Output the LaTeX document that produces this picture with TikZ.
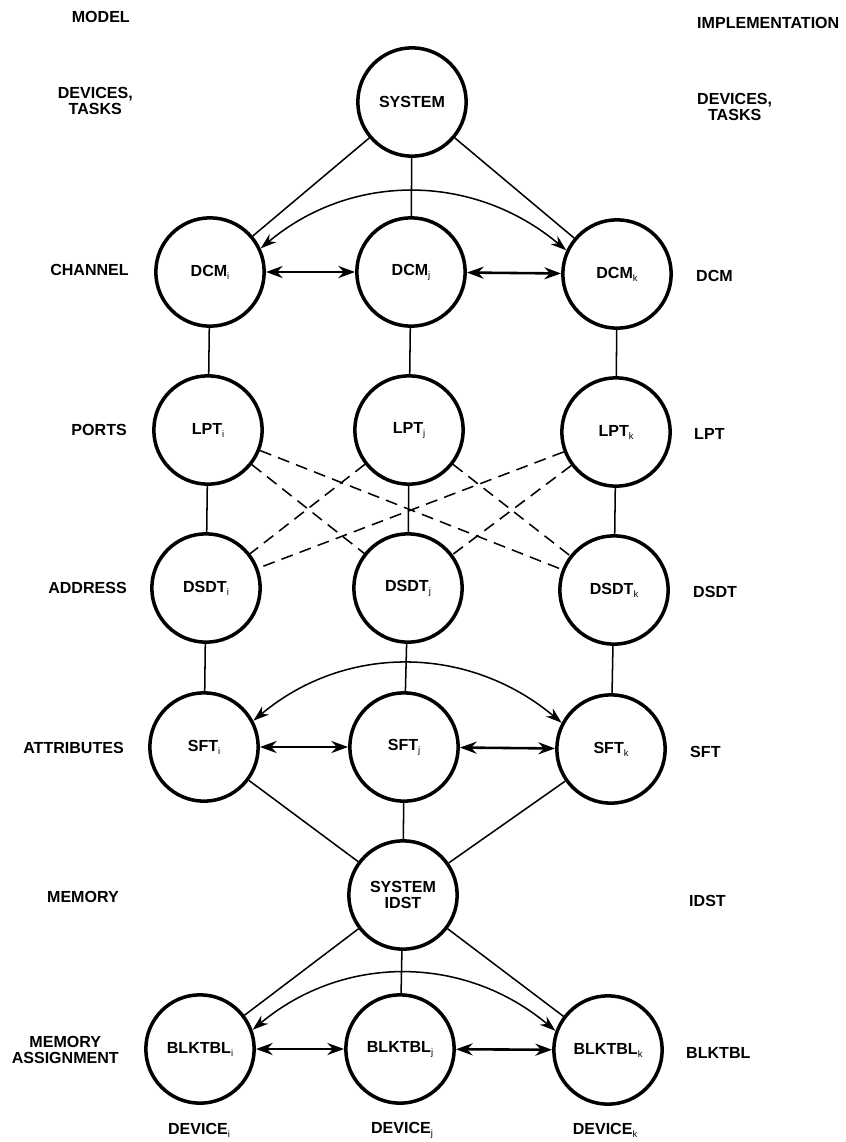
\documentclass[tikz,border=0pt]{standalone}
\usepackage{fontspec}
\setmainfont{Liberation Sans}
\usetikzlibrary{arrows.meta}
\newcommand{\subix}[1]{\raisebox{-0.35ex}{\fontsize{8}{8}\selectfont\mdseries #1}}
\tikzset{
  tbl/.style={circle, draw, line width=3pt, minimum size=3.25cm, inner sep=0pt, align=center},
  lbl/.style={align=center, inner sep=0pt},
  link/.style={line width=1.3pt},
  xarr/.style={line width=2.2pt, {Stealth[length=0.5cm,width=0.36cm]}-{Stealth[length=0.5cm,width=0.36cm]}},
  bow/.style={line width=1.3pt, {Stealth[length=0.48cm,width=0.32cm]}-{Stealth[length=0.48cm,width=0.32cm]}},
  cross/.style={line width=1.3pt, dash pattern=on 0.36cm off 0.22cm}
}
\begin{document}
\begin{tikzpicture}[x=0.03cm, y=0.03cm, font=\fontsize{13.7}{13}\selectfont\bfseries]
  \useasboundingbox (0,0) rectangle (846,-1142);
  % tables
  \node[tbl] (system) at (412,-102) {SYSTEM};
  \node[tbl] (dcmi) at (210,-272) {DCM\subix{i}};
  \node[tbl] (dcmj) at (411,-272) {DCM\subix{j}};
  \node[tbl] (dcmk) at (617,-274) {DCM\subix{k}};
  \node[tbl] (lpti) at (208,-430) {LPT\subix{i}};
  \node[tbl] (lptj) at (409,-430) {LPT\subix{j}};
  \node[tbl] (lptk) at (616,-432) {LPT\subix{k}};
  \node[tbl] (dsdti) at (206,-588) {DSDT\subix{i}};
  \node[tbl] (dsdtj) at (408,-588) {DSDT\subix{j}};
  \node[tbl] (dsdtk) at (614,-590) {DSDT\subix{k}};
  \node[tbl] (sfti) at (204,-747) {SFT\subix{i}};
  \node[tbl] (sftj) at (404,-747) {SFT\subix{j}};
  \node[tbl] (sftk) at (611,-749) {SFT\subix{k}};
  \node[tbl] (idst) at (403,-895) {SYSTEM\\IDST};
  \node[tbl] (blki) at (200,-1049) {BLKTBL\subix{i}};
  \node[tbl] (blkj) at (400,-1049) {BLKTBL\subix{j}};
  \node[tbl] (blkk) at (608,-1050) {BLKTBL\subix{k}};
  % model side
  \node[lbl, anchor=east] (model) at (130,-17) {MODEL};
  \node[lbl, anchor=east] (mtasks) at (133,-101) {DEVICES,\\TASKS};
  \node[lbl, anchor=east] (channel) at (129,-270) {CHANNEL};
  \node[lbl, anchor=east] (ports) at (127,-430) {PORTS};
  \node[lbl, anchor=east] (address) at (127,-588) {ADDRESS};
  \node[lbl, anchor=east] (attrib) at (124,-748) {ATTRIBUTES};
  \node[lbl, anchor=east] (memory) at (119,-897) {MEMORY};
  \node[lbl, anchor=east] (massign) at (119,-1050) {MEMORY\\ASSIGNMENT};
  % implementation side
  \node[lbl, anchor=west] (impl) at (697,-23) {IMPLEMENTATION};
  \node[lbl, anchor=west] (itasks) at (697,-107) {DEVICES,\\TASKS};
  \node[lbl, anchor=west] (idcm) at (696,-276) {DCM};
  \node[lbl, anchor=west] (ilpt) at (694,-434) {LPT};
  \node[lbl, anchor=west] (idsdt) at (693,-592) {DSDT};
  \node[lbl, anchor=west] (isft) at (690,-752) {SFT};
  \node[lbl, anchor=west] (iidst) at (689,-901) {IDST};
  \node[lbl, anchor=west] (iblk) at (686,-1053) {BLKTBL};
  % devices
  \node[lbl] (devi) at (199,-1130) {DEVICE\subix{i}};
  \node[lbl] (devj) at (402,-1130) {DEVICE\subix{j}};
  \node[lbl] (devk) at (605,-1130) {DEVICE\subix{k}};
  % links
  \draw[link] (system) -- (dcmi);
  \draw[link] (system) -- (dcmj);
  \draw[link] (system) -- (dcmk);
  \draw[link] (dcmi) -- (lpti);
  \draw[link] (dcmj) -- (lptj);
  \draw[link] (dcmk) -- (lptk);
  \draw[link] (lpti) -- (dsdti);
  \draw[link] (lptj) -- (dsdtj);
  \draw[link] (lptk) -- (dsdtk);
  \draw[cross] (lpti) -- (dsdtj);
  \draw[cross] (lpti) -- (dsdtk);
  \draw[cross] (lptj) -- (dsdti);
  \draw[cross] (lptj) -- (dsdtk);
  \draw[cross] (lptk) -- (dsdti);
  \draw[cross] (lptk) -- (dsdtj);
  \draw[link] (dsdti) -- (sfti);
  \draw[link] (dsdtj) -- (sftj);
  \draw[link] (dsdtk) -- (sftk);
  \draw[link] (sfti) -- (idst);
  \draw[link] (sftj) -- (idst);
  \draw[link] (sftk) -- (idst);
  \draw[link] (idst) -- (blki);
  \draw[link] (idst) -- (blkj);
  \draw[link] (idst) -- (blkk);
  % arrows
  \draw[xarr] (dcmi) -- (dcmj);
  \draw[xarr] (dcmj) -- (dcmk);
  \draw[bow] (dcmi.25) to[out=40,in=140] (dcmk.155);
  \draw[xarr] (sfti) -- (sftj);
  \draw[xarr] (sftj) -- (sftk);
  \draw[bow] (sfti.28) to[out=40,in=140] (sftk.152);
  \draw[xarr] (blki) -- (blkj);
  \draw[xarr] (blkj) -- (blkk);
  \draw[bow] (blki.20) to[out=40,in=140] (blkk.160);
\end{tikzpicture}
\end{document}
